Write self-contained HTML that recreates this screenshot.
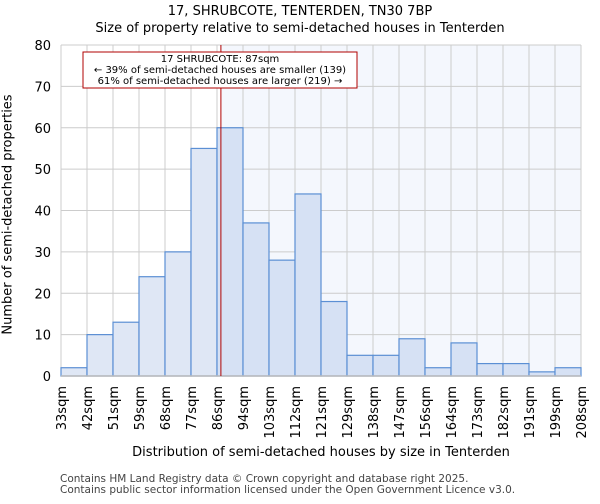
<!DOCTYPE html>
<html><head><meta charset="utf-8"><style>
body{margin:0;background:#fff;font-family:"DejaVu Sans","Liberation Sans",sans-serif;}
</style></head><body>
<svg width="600" height="500" xmlns="http://www.w3.org/2000/svg" font-family="DejaVu Sans, Liberation Sans, sans-serif">
<g id="g"></g>
</svg>
<script>
const labels=["33sqm","42sqm","51sqm","59sqm","68sqm","77sqm","86sqm","94sqm","103sqm","112sqm","121sqm","129sqm","138sqm","147sqm","156sqm","164sqm","173sqm","182sqm","191sqm","199sqm","208sqm"];
const counts=[2,10,13,24,30,55,60,37,28,44,18,5,5,9,2,8,3,3,1,2];
const yTicks=[0,10,20,30,40,50,60,70,80];
const markerBin=6.15;
const L=61,R=581,T=45,B=376,yMax=80;
const bw=(R-L)/counts.length;
const xs=i=>L+i*bw, ys=v=>B-v/yMax*(B-T);
const g=document.getElementById('g');const NS='http://www.w3.org/2000/svg';
function mk(t,a,txt){const e=document.createElementNS(NS,t);for(const k in a)e.setAttribute(k,a[k]);if(txt!==undefined)e.textContent=txt;g.appendChild(e);return e;}
const mx=xs(markerBin);
let e=mk('rect',{x:mx,y:T,width:R-mx,height:B-T,fill:'#f4f7fd'});


yTicks.forEach(v=>{let l=mk('line',{x1:L,x2:R,y1:ys(v),y2:ys(v),stroke:'#cccccc'});


let t=mk('text',{x:L-10,y:ys(v)+5,'text-anchor':'end','font-size':13},v);

});
labels.forEach((s,i)=>{let l=mk('line',{x1:xs(i),x2:xs(i),y1:T,y2:B,stroke:'#cccccc'});


let t=mk('text',{transform:`translate(${xs(i)+5},${B+10}) rotate(-90)`,'text-anchor':'end','font-size':13},s);

});
counts.forEach((v,i)=>{let r=mk('rect',{x:xs(i),y:ys(v),width:bw,height:B-ys(v),fill:i>=6?'#d6e1f4':'#dfe7f5',stroke:'#5b8fd4','stroke-width':1.2});

});
let ax=mk('line',{x1:L,x2:R,y1:B,y2:B,stroke:'#bbbbbb','stroke-width':1.5});


let ml=mk('line',{x1:mx,x2:mx,y1:T,y2:B,stroke:'#b00000','stroke-width':1});


let bx=mk('rect',{x:83,y:52,width:274,height:36,fill:'#fff',stroke:'#b00000'});


[["17 SHRUBCOTE: 87sqm",62],["← 39% of semi-detached houses are smaller (139)",73],["61% of semi-detached houses are larger (219) →",84]].forEach(([s,y])=>{let t=mk('text',{x:220,y:y,'text-anchor':'middle','font-size':10},s);

});
</script>
<div style="position:absolute;left:0;top:0;width:600px;height:500px;pointer-events:none;font-family:'DejaVu Sans','Liberation Sans',sans-serif;">
<div style="position:absolute;top:3px;width:600px;text-align:center;font-size:13px;line-height:17px;">17, SHRUBCOTE, TENTERDEN, TN30 7BP<br>Size of property relative to semi-detached houses in Tenterden</div>
<div style="position:absolute;top:445px;left:61px;width:520px;text-align:center;font-size:13px;">Distribution of semi-detached houses by size in Tenterden</div>
<div style="position:absolute;left:-142px;top:207px;width:300px;text-align:center;font-size:13px;white-space:nowrap;transform:rotate(-90deg);">Number of semi-detached properties</div>
<div style="position:absolute;left:60px;top:474px;font-size:10.5px;line-height:11px;color:#444;">Contains HM Land Registry data © Crown copyright and database right 2025.<br>Contains public sector information licensed under the Open Government Licence v3.0.</div>
</div>
</body></html>
